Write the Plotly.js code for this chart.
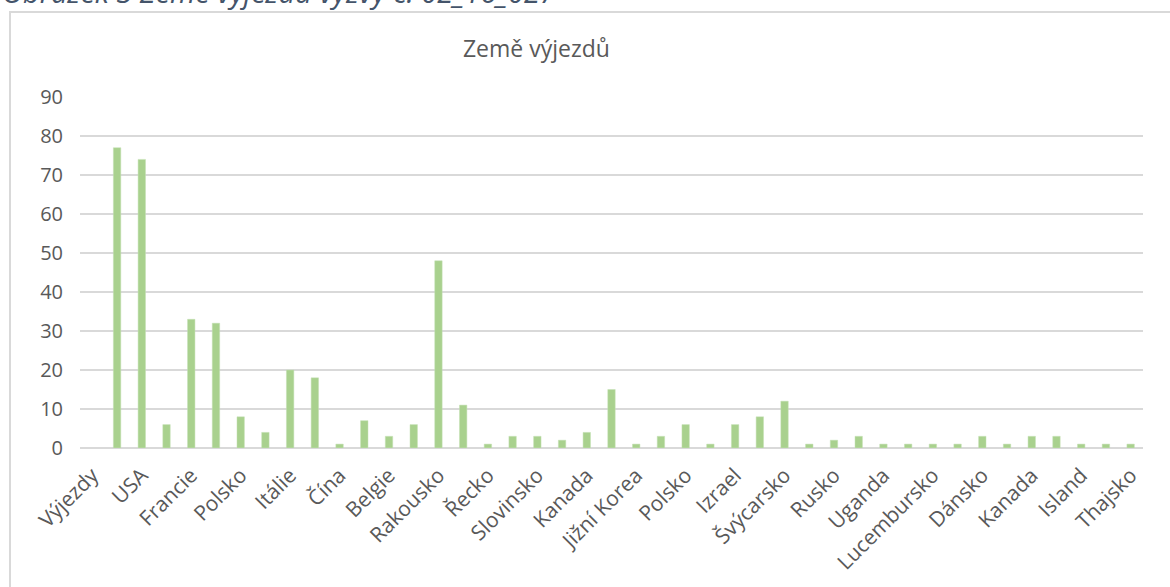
<!DOCTYPE html>
<html>
<head>
<meta charset="utf-8">
<script src="https://cdn.plot.ly/plotly-3.0.1.min.js"></script>
<style>
  html, body { margin: 0; padding: 0; background: #ffffff; }
  #chart { width: 1170px; height: 587px; }
</style>
</head>
<body>
<div id="chart"></div>
<script>
// Category positions (index 0 is the header row "Výjezdy", which has no value)
const categoryIndex = [0,1,2,3,4,5,6,7,8,9,10,11,12,13,14,15,16,17,18,19,20,21,22,23,24,25,26,27,28,29,30,31,32,33,34,35,36,37,38,39,40,41,42];
// Number of trips per category
const tripCounts = [null,77,74,6,33,32,8,4,20,18,1,7,3,6,48,11,1,3,3,2,4,15,1,3,6,1,6,8,12,1,2,3,1,1,1,1,3,1,3,3,1,1,1];
// Axis labels shown on every other category
const tickPositions = [0,2,4,6,8,10,12,14,16,18,20,22,24,26,28,30,32,34,36,38,40,42];
const tickLabels = ["Výjezdy","USA","Francie","Polsko","Itálie","Čína","Belgie","Rakousko","Řecko","Slovinsko","Kanada","Jižní Korea","Polsko","Izrael","Švýcarsko","Rusko","Uganda","Lucembursko","Dánsko","Kanada","Island","Thajsko"];
const yTicks = [0,10,20,30,40,50,60,70,80,90];

const chartTitle = "Země výjezdů";
const captionText = "Obrázek 3 Země výjezdů výzvy č. 02_16_027";

const FONT = "'Open Sans', 'Noto Sans', sans-serif";
const GREY = "#595959";
const GRID = "#d9d9d9";

const trace = {
  type: "bar",
  x: categoryIndex,
  y: tripCounts,
  marker: { color: "#a9d18e", line: { color: "#c5e0b4", width: 0.5 } },
  hoverinfo: "skip"
};

const layout = {
  width: 1170,
  height: 587,
  margin: { l: 80, r: 27, t: 97, b: 139 },
  paper_bgcolor: "#ffffff",
  plot_bgcolor: "#ffffff",
  showlegend: false,
  bargap: 0.7,
  font: { family: FONT, color: GREY },
  title: {
    text: chartTitle,
    font: { family: FONT, size: 23, color: GREY },
    x: 0.4585, xref: "container", xanchor: "center",
    y: 0.916, yref: "container", yanchor: "middle"
  },
  xaxis: {
    type: "linear",
    range: [-0.5, 42.5],
    tickmode: "array",
    tickvals: tickPositions,
    ticktext: tickLabels,
    tickangle: -45,
    ticks: "",
    showgrid: false,
    zeroline: false,
    showline: false,
    ticklabelstandoff: 10,
    tickfont: { family: FONT, size: 21, color: GREY },
    fixedrange: true
  },
  yaxis: {
    range: [0, 90],
    tickmode: "array",
    tickvals: yTicks,
    ticks: "",
    showgrid: true,
    gridcolor: GRID,
    gridwidth: 1.5,
    zeroline: true,
    zerolinecolor: GRID,
    zerolinewidth: 1.5,
    showline: false,
    ticklabelstandoff: 16,
    tickfont: { family: FONT, size: 20, color: GREY },
    fixedrange: true
  },
  shapes: [
    {
      type: "rect", xref: "paper", yref: "paper",
      x0: (10 - 80) / 1063, x1: (1200 - 80) / 1063,
      y0: (448 - 620) / 351, y1: (448 - 12) / 351,
      line: { color: GRID, width: 2 },
      fillcolor: "rgba(0,0,0,0)",
      layer: "below"
    }
  ],
  annotations: [
    {
      text: "<i>" + captionText + "</i>",
      xref: "paper", yref: "paper",
      x: -80 / 1063, xanchor: "left",
      y: (448 - 13) / 351, yanchor: "bottom",
      showarrow: false,
      font: { family: FONT, size: 29, color: "#44546a" }
    }
  ]
};

Plotly.newPlot("chart", [trace], layout, { displayModeBar: false, staticPlot: true });
</script>
</body>
</html>
